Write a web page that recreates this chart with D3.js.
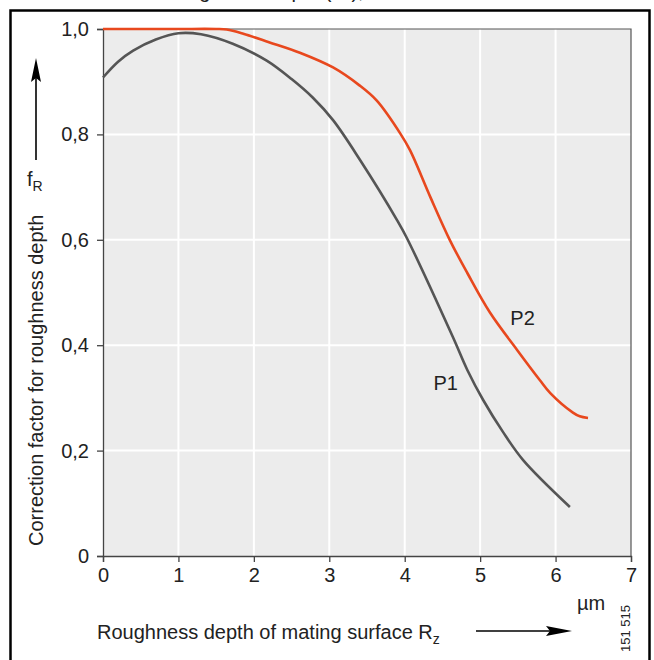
<!DOCTYPE html>
<html>
<head>
<meta charset="utf-8">
<script src="https://cdn.jsdelivr.net/npm/d3@7"></script>
<style>
  html, body { margin: 0; padding: 0; background: #fff; }
  svg { display: block; font-family: "Liberation Sans", Arial, sans-serif; }
</style>
</head>
<body>
<script>
// curve P1 (grey)
const p1X = [0, 0.2, 0.4, 0.7, 1.0, 1.3, 1.72, 2.17, 2.5, 2.78, 3.05, 3.41, 3.9, 4.03, 4.64, 4.83, 5.04, 5.3, 5.57, 6.19];
const p1F = [0.908, 0.938, 0.959, 0.98, 0.992, 0.99, 0.972, 0.94, 0.905, 0.87, 0.827, 0.751, 0.637, 0.603, 0.415, 0.353, 0.296, 0.236, 0.182, 0.093];

// curve P2 (orange)
const p2X = [0, 0.5, 1.0, 1.5, 1.64, 1.86, 2.2, 2.61, 3.05, 3.4, 3.63, 3.94, 4.07, 4.34, 4.6, 4.83, 5.13, 5.49, 5.79, 5.93, 6.23, 6.32, 6.43];
const p2F = [1, 1, 1, 1, 0.999, 0.991, 0.975, 0.955, 0.927, 0.893, 0.864, 0.802, 0.77, 0.681, 0.599, 0.537, 0.462, 0.391, 0.334, 0.309, 0.272, 0.265, 0.262];

const xTicks = [0, 1, 2, 3, 4, 5, 6, 7];
const yTicks = [0, 0.2, 0.4, 0.6, 0.8, 1.0];

const width = 654;
const height = 660;
const margin = { left: 103, right: 23, top: 29, bottom: 104 };
const fontSize = 20;

const svg = d3.select("body").append("svg")
  .attr("width", width)
  .attr("height", height);

const x = d3.scaleLinear().domain([0, 7]).range([margin.left, width - margin.right]);
const y = d3.scaleLinear().domain([0, 1]).range([height - margin.bottom, margin.top]);

// outer frame
svg.append("rect")
  .attr("x", 10.5).attr("y", 10.5)
  .attr("width", 639).attr("height", 700)
  .attr("fill", "none").attr("stroke", "#000").attr("stroke-width", 2.5);

// caption above the frame, cut off by the page edge
svg.append("text")
  .attr("x", 118).attr("y", -2)
  .attr("font-size", fontSize).attr("fill", "#222")
  .text("Rz of roughness depth (fR),");

// plot background
svg.append("rect")
  .attr("x", x(0)).attr("y", y(1))
  .attr("width", x(7) - x(0)).attr("height", y(0) - y(1))
  .attr("fill", "#ececec");

// grid
svg.append("g").selectAll("line")
  .data(xTicks.slice(1, -1))
  .join("line")
  .attr("x1", d => x(d)).attr("x2", d => x(d))
  .attr("y1", y(1)).attr("y2", y(0))
  .attr("stroke", "#fff").attr("stroke-width", 2);

svg.append("g").selectAll("line")
  .data(yTicks.slice(1, -1))
  .join("line")
  .attr("x1", x(0)).attr("x2", x(7))
  .attr("y1", d => y(d)).attr("y2", d => y(d))
  .attr("stroke", "#fff").attr("stroke-width", 2);

// top and right border of the plot
svg.append("path")
  .attr("d", `M${x(0)},${y(1)}H${x(7)}V${y(0)}`)
  .attr("fill", "none").attr("stroke", "#555").attr("stroke-width", 1.2);

// axes
const fmt = d => d === 0 ? "0" : d3.format(".1f")(d).replace(".", ",");

const yAxis = svg.append("g")
  .attr("transform", `translate(${x(0)},0)`)
  .call(d3.axisLeft(y).tickValues(yTicks).tickFormat(fmt).tickSize(6).tickPadding(8));

const xAxis = svg.append("g")
  .attr("transform", `translate(0,${y(0)})`)
  .call(d3.axisBottom(x).tickValues(xTicks).tickFormat(d3.format("d")).tickSize(6).tickPadding(6));

[xAxis, yAxis].forEach(g => {
  g.selectAll("path, line").attr("stroke", "#444").attr("stroke-width", 1.3);
  g.selectAll("text").attr("font-size", fontSize).attr("fill", "#222")
    .attr("font-family", "Liberation Sans, Arial, sans-serif");
});

// curves
const line = d3.line()
  .x(d => x(d[0]))
  .y(d => y(d[1]))
  .curve(d3.curveCatmullRom.alpha(0.5));

svg.append("path")
  .datum(p2X.map((v, i) => [v, p2F[i]]))
  .attr("d", line)
  .attr("fill", "none").attr("stroke", "#e8481e").attr("stroke-width", 2.6);

svg.append("path")
  .datum(p1X.map((v, i) => [v, p1F[i]]))
  .attr("d", line)
  .attr("fill", "none").attr("stroke", "#555").attr("stroke-width", 2.6);

// curve labels
svg.append("text").attr("x", x(5.4)).attr("y", y(0.438))
  .attr("font-size", fontSize).attr("fill", "#222").text("P2");
svg.append("text").attr("x", x(4.38)).attr("y", y(0.315))
  .attr("font-size", fontSize).attr("fill", "#222").text("P1");

// y axis title
svg.append("text")
  .attr("transform", "translate(43,546) rotate(-90)")
  .attr("font-size", fontSize).attr("fill", "#222")
  .text("Correction factor for roughness depth");

const fR = svg.append("text").attr("x", 27).attr("y", 186)
  .attr("font-size", fontSize).attr("fill", "#222");
fR.append("tspan").text("f");
fR.append("tspan").attr("dy", 5).attr("font-size", 14).text("R");

// y arrow
svg.append("line")
  .attr("x1", 36).attr("x2", 36).attr("y1", 160).attr("y2", 75)
  .attr("stroke", "#000").attr("stroke-width", 1.6);
svg.append("path")
  .attr("d", "M36,58 L41,82 L36,78 L31,82 Z")
  .attr("fill", "#000");

// x axis title
const xt = svg.append("text").attr("x", 97).attr("y", 639)
  .attr("font-size", fontSize).attr("fill", "#222");
xt.append("tspan").text("Roughness depth of mating surface R");
xt.append("tspan").attr("dy", 5).attr("font-size", 14).text("z");

svg.append("line")
  .attr("x1", 476).attr("x2", 550).attr("y1", 631).attr("y2", 631)
  .attr("stroke", "#000").attr("stroke-width", 1.6);
svg.append("path")
  .attr("d", "M572,631 L546,626 L550,631 L546,636 Z")
  .attr("fill", "#000");

// unit
svg.append("text").attr("x", 577).attr("y", 610)
  .attr("font-size", fontSize).attr("fill", "#222").text("\u00b5m");

// figure number
svg.append("text")
  .attr("transform", "translate(630,652) rotate(-90)")
  .attr("font-size", 13).attr("fill", "#222")
  .text("151 515");
</script>
</body>
</html>
